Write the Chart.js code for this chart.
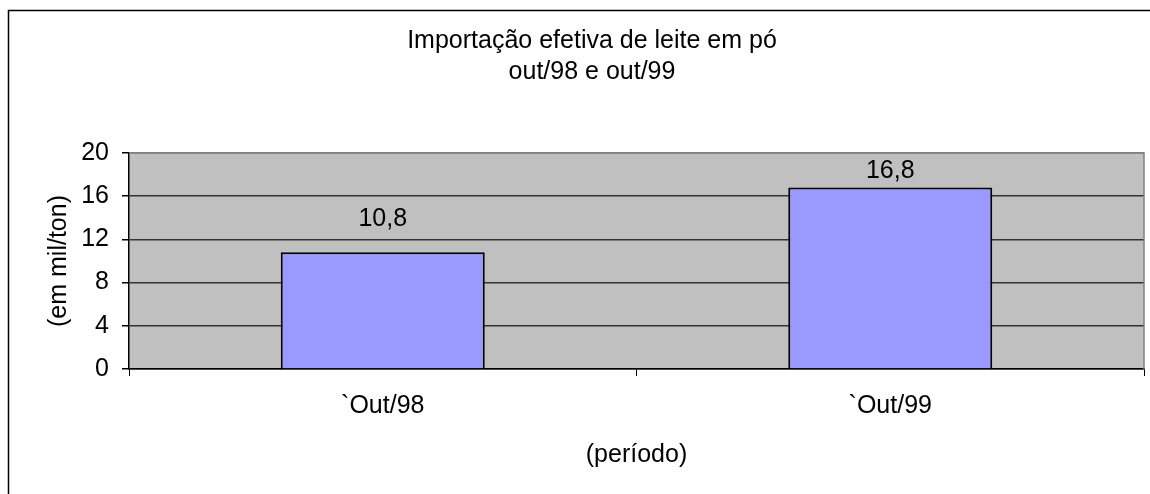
<!DOCTYPE html>
<html>
<head>
<meta charset="utf-8">
<script src="https://cdn.jsdelivr.net/npm/chart.js@4/dist/chart.umd.min.js"></script>
<style>
  html, body { margin: 0; padding: 0; background: #fff; }
  #wrap { width: 1150px; height: 494px; position: relative; }
</style>
</head>
<body>
<div id="wrap"><canvas id="grafico" width="1150" height="494"></canvas></div>
<script>
// dados
const periodos = ['`Out/98', '`Out/99'];
const importacao = [10.8, 16.8];
const yTicks = [0, 4, 8, 12, 16, 20];

const FONTE = '"Liberation Sans", Arial, sans-serif';
const TAM = 25;

// fundo cinza da área de plotagem + moldura
const plotArea = {
    id: 'plotArea',
    beforeDraw(chart) {
        const { ctx, chartArea: a } = chart;
        ctx.save();
        ctx.fillStyle = '#fff';
        ctx.fillRect(0, 0, chart.width, chart.height);
        ctx.fillStyle = '#C0C0C0';
        ctx.fillRect(a.left, a.top, a.right - a.left, a.bottom - a.top);
        ctx.restore();
    },
    afterDraw(chart) {
        const { ctx, chartArea: a } = chart;
        ctx.save();
        // borda cinza em cima e à direita
        ctx.strokeStyle = '#808080';
        ctx.lineWidth = 1.5;
        ctx.beginPath();
        ctx.moveTo(a.left, a.top);
        ctx.lineTo(a.right, a.top);
        ctx.lineTo(a.right, a.bottom);
        ctx.stroke();
        // borda externa do gráfico
        ctx.strokeStyle = '#000';
        ctx.lineWidth = 1.5;
        ctx.beginPath();
        ctx.moveTo(8.5, chart.height);
        ctx.lineTo(8.5, 10.5);
        ctx.lineTo(chart.width, 10.5);
        ctx.stroke();
        ctx.restore();
    }
};

// rótulos de valor acima das barras
const rotulos = {
    id: 'rotulos',
    afterDatasetsDraw(chart, args, opts) {
        const { ctx } = chart;
        const meta = chart.getDatasetMeta(0);
        ctx.save();
        ctx.font = TAM + 'px ' + FONTE;
        ctx.fillStyle = '#000';
        ctx.textAlign = 'center';
        ctx.textBaseline = 'middle';
        meta.data.forEach((bar, i) => {
            const txt = importacao[i].toLocaleString('pt-BR');
            ctx.fillText(txt, bar.x, bar.y - opts.offsets[i]);
        });
        ctx.restore();
    }
};

new Chart(document.getElementById('grafico'), {
    type: 'bar',
    data: {
        labels: periodos,
        datasets: [{
            data: importacao,
            backgroundColor: '#9999FF',
            borderColor: '#000',
            borderWidth: 2,
            categoryPercentage: 1,
            barPercentage: 0.402
        }]
    },
    plugins: [plotArea, rotulos],
    options: {
        responsive: false,
        animation: false,
        devicePixelRatio: 1,
        layout: { padding: { left: 40, right: 6, top: 0, bottom: 20 } },
        plugins: {
            legend: { display: false },
            tooltip: { enabled: false },
            title: {
                display: true,
                text: ['Importação efetiva de leite em pó', 'out/98 e out/99'],
                color: '#000',
                font: { family: FONTE, size: TAM, weight: 'normal', lineHeight: 1.24 },
                padding: { top: 26, bottom: 65 }
            },
            rotulos: { offsets: [33, 16] }
        },
        scales: {
            x: {
                afterFit(scale) { scale.height = 105; },
                grid: { drawOnChartArea: false, drawTicks: true, tickLength: 7, tickColor: '#000' },
                border: { color: '#000', width: 1.5 },
                ticks: { color: '#000', padding: 15, font: { family: FONTE, size: TAM } },
                title: {
                    display: true,
                    text: '(período)',
                    color: '#000',
                    font: { family: FONTE, size: TAM, lineHeight: 1.2 }
                }
            },
            y: {
                min: 0,
                max: 20,
                afterFit(scale) { scale.width = 89; },
                afterBuildTicks(scale) { scale.ticks = yTicks.map(v => ({ value: v })); },
                grid: {
                    color: c => (c.tick && c.tick.value === 20) ? '#808080' : '#333',
                    lineWidth: 1.5,
                    tickLength: 7,
                    tickColor: '#000'
                },
                border: { color: '#000', width: 1.5 },
                ticks: { color: '#000', padding: 13, font: { family: FONTE, size: TAM } },
                title: {
                    display: true,
                    text: '(em mil/ton)',
                    color: '#000',
                    font: { family: FONTE, size: TAM, lineHeight: 1.2 }
                }
            }
        }
    }
});
</script>
</body>
</html>
